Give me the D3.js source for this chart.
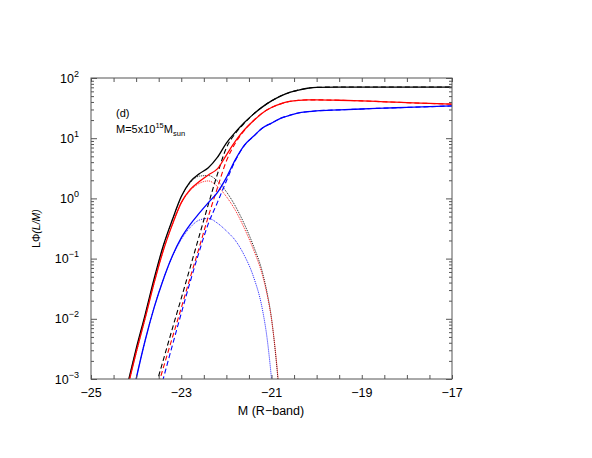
<!DOCTYPE html>
<html>
<head>
<meta charset="utf-8">
<script src="https://cdn.jsdelivr.net/npm/d3@7"></script>
<style>
  body { margin: 0; background: #fff; }
  text { font-family: "Liberation Sans", Arial, Helvetica, sans-serif; fill: #000; }
</style>
</head>
<body>
<div id="container"></div>
<script>
/* CONSTANTS AND GLOBALS */
const width = 592,
  height = 458,
  plotLeft = 91,
  plotRight = 452,
  plotTop = 78,
  plotBottom = 379;

/* DATA  (magnitudes, and log10 of LΦ(L|M)) */
const xTicks = [-25, -23, -21, -19, -17];
const yDecades = [-3, -2, -1, 0, 1, 2];

// total = centrals + satellites (solid)
const magsTotal = [-24.2, -24.0, -23.8, -23.6, -23.4, -23.2, -23.0, -22.8, -22.6, -22.4, -22.2, -22.0, -21.8, -21.6,
  -21.4, -21.2, -21.0, -20.8, -20.6, -20.4, -20.2, -20.0, -19.5, -19.0, -18.5, -18.0, -17.5, -17.0];
const blackTotal = [-3.12, -2.50, -1.93, -1.33, -0.79, -0.36, 0.03, 0.28, 0.41, 0.51, 0.68, 0.92, 1.10, 1.26,
  1.40, 1.52, 1.62, 1.70, 1.76, 1.80, 1.83, 1.845, 1.85, 1.85, 1.85, 1.85, 1.85, 1.85];
const redTotal = [-3.17, -2.56, -1.99, -1.40, -0.87, -0.44, -0.07, 0.15, 0.28, 0.39, 0.49, 0.72, 0.95, 1.14,
  1.29, 1.42, 1.51, 1.57, 1.61, 1.63, 1.637, 1.637, 1.63, 1.62, 1.605, 1.59, 1.578, 1.565];
const blueTotal = [-3.72, -3.00, -2.36, -1.81, -1.35, -0.96, -0.655, -0.43, -0.245, -0.07, 0.097, 0.346, 0.644, 0.884,
  1.031, 1.17, 1.25, 1.33, 1.38, 1.42, 1.44, 1.455, 1.47, 1.485, 1.50, 1.512, 1.524, 1.536];

// centrals (dashed)
const magsCen = [-23.6, -23.4, -23.2, -23.0, -22.8, -22.6, -22.4, -22.2, -22.0, -21.8, -21.6, -21.4, -21.2,
  -21.0, -20.8, -20.6, -20.4, -20.2, -20.0, -19.5, -19.0, -18.5, -18.0, -17.5, -17.0];
const blackCen = [-3.21, -2.69, -2.17, -1.66, -1.14, -0.62, -0.10, 0.40, 0.84, 1.08, 1.25, 1.40, 1.52,
  1.62, 1.70, 1.76, 1.80, 1.83, 1.845, 1.85, 1.85, 1.85, 1.85, 1.85, 1.85];
const redCen = [-3.33, -2.82, -2.32, -1.82, -1.31, -0.81, -0.30, 0.17, 0.62, 0.92, 1.13, 1.29, 1.42,
  1.51, 1.57, 1.61, 1.63, 1.637, 1.637, 1.63, 1.62, 1.605, 1.59, 1.578, 1.565];
const blueCen = [-3.55, -3.00, -2.45, -1.91, -1.38, -0.88, -0.42, -0.07, 0.29, 0.63, 0.88, 1.03, 1.17,
  1.25, 1.33, 1.38, 1.42, 1.44, 1.455, 1.47, 1.485, 1.50, 1.512, 1.524, 1.536];

// satellites (dotted)
const magsSat = [-24.2, -24.0, -23.8, -23.6, -23.4, -23.2, -23.0, -22.8, -22.6, -22.4, -22.2, -22.0, -21.8,
  -21.6, -21.4, -21.2, -21.1, -21.0, -20.9, -20.8];
const blackSat = [-3.14, -2.52, -1.95, -1.35, -0.80, -0.37, 0.02, 0.26, 0.37, 0.38, 0.29, 0.11, -0.13,
  -0.43, -0.79, -1.23, -1.56, -1.99, -2.66, -3.51];
const redSat = [-3.18, -2.57, -1.99, -1.40, -0.87, -0.44, -0.08, 0.13, 0.25, 0.29, 0.20, 0.03, -0.20,
  -0.50, -0.85, -1.28, -1.59, -2.01, -2.63, -3.46];
const blueSat = [-3.72, -3.00, -2.36, -1.81, -1.35, -0.97, -0.68, -0.48, -0.36, -0.332, -0.41, -0.54, -0.70,
  -0.95, -1.30, -1.85, -2.31, -3.00, -3.90, -5.00];

const series = [
  { mags: magsSat, vals: blackSat, color: "#000", kind: "dot" },
  { mags: magsSat, vals: redSat, color: "#f00", kind: "dot" },
  { mags: magsSat, vals: blueSat, color: "#00f", kind: "dot" },
  { mags: magsCen, vals: blackCen, color: "#000", kind: "dash" },
  { mags: magsCen, vals: redCen, color: "#f00", kind: "dash" },
  { mags: magsCen, vals: blueCen, color: "#00f", kind: "dash" },
  { mags: magsTotal, vals: blackTotal, color: "#000", kind: "solid" },
  { mags: magsTotal, vals: redTotal, color: "#f00", kind: "solid" },
  { mags: magsTotal, vals: blueTotal, color: "#00f", kind: "solid" }
];

const svg = d3.select("#container")
  .append("svg")
  .attr("width", width)
  .attr("height", height);

/* SCALES */
const xScale = d3.scaleLinear()
  .domain([-25, -17])
  .range([plotLeft, plotRight]);

const yScale = d3.scaleLog()
  .domain([1e-3, 1e2])
  .range([plotBottom, plotTop]);

svg.append("clipPath")
  .attr("id", "clip")
  .append("rect")
  .attr("x", plotLeft)
  .attr("y", plotTop)
  .attr("width", plotRight - plotLeft)
  .attr("height", plotBottom - plotTop);

/* CURVES */
const line = d3.line()
  .x(d => xScale(d.m))
  .y(d => yScale(d.v))
  .curve(d3.curveMonotoneX);

const curves = svg.append("g").attr("clip-path", "url(#clip)");

curves.selectAll(".curve")
  .data(series)
  .join("path")
  .attr("class", "curve")
  .attr("d", s => line(s.mags.map((m, i) => ({ m: m, v: Math.pow(10, s.vals[i]) }))))
  .attr("fill", "none")
  .attr("stroke", s => s.color)
  .attr("stroke-width", s => s.kind == "solid" ? 1.3 : (s.kind == "dash" ? 1.1 : 0.9))
  .attr("stroke-dasharray", s => s.kind == "dash" ? "5,3" : (s.kind == "dot" ? "1,1" : null));

/* AXES */
const axisColor = "#555";
const xMinor = d3.range(-25, -16.9, 0.5);
const yMajor = yDecades.map(e => Math.pow(10, e));
const yMinor = [];
yDecades.slice(0, -1).forEach(e => {
  for (let k = 2; k <= 9; k++) yMinor.push(k * Math.pow(10, e));
});

function styleAxis(g) {
  g.select(".domain").remove();
  g.selectAll("line").attr("stroke", axisColor);
  g.selectAll("text").remove();
}

svg.append("g")
  .attr("transform", `translate(0,${plotBottom})`)
  .call(d3.axisBottom(xScale).tickValues(xMinor).tickSize(-4).tickFormat(""))
  .call(styleAxis);

svg.append("g")
  .attr("transform", `translate(0,${plotTop})`)
  .call(d3.axisTop(xScale).tickValues(xMinor).tickSize(-4).tickFormat(""))
  .call(styleAxis);

svg.append("g")
  .attr("transform", `translate(${plotLeft},0)`)
  .call(d3.axisLeft(yScale).tickValues(yMajor).tickSize(-6).tickFormat(""))
  .call(styleAxis);
svg.append("g")
  .attr("transform", `translate(${plotLeft},0)`)
  .call(d3.axisLeft(yScale).tickValues(yMinor).tickSize(-3).tickFormat(""))
  .call(styleAxis);
svg.append("g")
  .attr("transform", `translate(${plotRight},0)`)
  .call(d3.axisRight(yScale).tickValues(yMajor).tickSize(-6).tickFormat(""))
  .call(styleAxis);
svg.append("g")
  .attr("transform", `translate(${plotRight},0)`)
  .call(d3.axisRight(yScale).tickValues(yMinor).tickSize(-3).tickFormat(""))
  .call(styleAxis);

svg.append("rect")
  .attr("x", plotLeft)
  .attr("y", plotTop)
  .attr("width", plotRight - plotLeft)
  .attr("height", plotBottom - plotTop)
  .attr("fill", "none")
  .attr("stroke", axisColor)
  .attr("stroke-width", 1);

/* TICK LABELS */
svg.selectAll(".xlabel")
  .data(xTicks)
  .join("text")
  .attr("class", "xlabel")
  .attr("x", d => xScale(d))
  .attr("y", 397)
  .attr("text-anchor", "middle")
  .style("font-size", "12.5px")
  .text(d => "\u2212" + Math.abs(d));

const yl = svg.selectAll(".ylabel")
  .data(yDecades)
  .join("text")
  .attr("class", "ylabel")
  .attr("x", plotLeft - 12)
  .attr("y", d => yScale(Math.pow(10, d)) + 4.5)
  .attr("text-anchor", "end")
  .style("font-size", "12.5px");
yl.append("tspan").text("10");
yl.append("tspan")
  .attr("dy", -6)
  .style("font-size", "9px")
  .text(d => d < 0 ? "\u2212" + Math.abs(d) : String(d));

/* AXIS TITLES */
svg.append("text")
  .attr("x", 271)
  .attr("y", 415)
  .attr("text-anchor", "middle")
  .style("font-size", "12.5px")
  .text("M (R\u2212band)");

const ytitle = svg.append("text")
  .attr("transform", `translate(40,${(plotTop + plotBottom) / 2}) rotate(-90)`)
  .attr("text-anchor", "middle")
  .style("font-size", "10.5px");
ytitle.append("tspan").text("L\u03A6");
ytitle.append("tspan").style("font-style", "italic").text("(L/M)");

/* ANNOTATION */
svg.append("text")
  .attr("x", 116)
  .attr("y", 117)
  .style("font-size", "11px")
  .text("(d)");

const ann = svg.append("text")
  .attr("x", 116)
  .attr("y", 133)
  .style("font-size", "11px");
ann.append("tspan").text("M=5x10");
ann.append("tspan").attr("dy", -5).style("font-size", "7.5px").text("15");
ann.append("tspan").attr("dy", 5).text("M");
ann.append("tspan").attr("dy", 3).style("font-size", "7.5px").text("sun");
</script>
</body>
</html>
